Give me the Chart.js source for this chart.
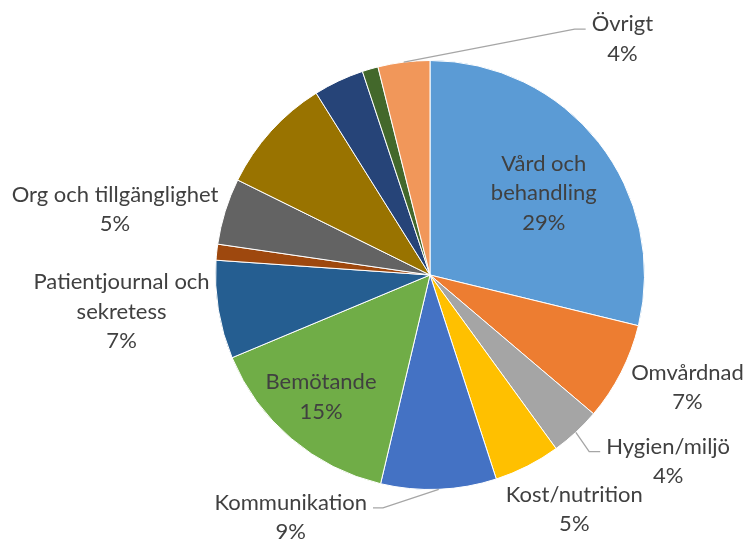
<!DOCTYPE html>
<html>
<head>
<meta charset="utf-8">
<script src="https://cdn.jsdelivr.net/npm/chart.js@4/dist/chart.umd.min.js"></script>
<style>
  html, body { margin: 0; padding: 0; background: #ffffff; }
  canvas { display: block; }
</style>
</head>
<body>
<canvas id="c" width="745" height="540"></canvas>
<script>
// Categories (clockwise from 12 o'clock); unlabeled slices have no visible label
const categories = [
  ['Vård och', 'behandling'],
  ['Omvårdnad'],
  ['Hygien/miljö'],
  ['Kost/nutrition'],
  ['Kommunikation'],
  ['Bemötande'],
  ['Patientjournal och', 'sekretess'],
  [''],
  ['Org och tillgänglighet'],
  [''],
  [''],
  [''],
  ['Övrigt']
];
// Share of total (percent)
const values = [28.8, 7.4, 3.8, 5.0, 8.7, 15.0, 7.4, 1.2, 5.0, 8.8, 3.8, 1.2, 3.9];
const showLabel = [true, true, true, true, true, true, true, false, true, false, false, false, true];
const colors = ['#5B9BD5', '#ED7D31', '#A5A5A5', '#FFC000', '#4472C4', '#70AD47',
                '#255E91', '#9E480E', '#636363', '#997300', '#264478', '#43682B', '#F1975A'];

// Label placement relative to each slice: angle offset (deg) from slice middle, radius factor
const placement = [
  { dA: 2.4,  k: 0.654 },
  { dA: -3.4, k: 1.31 },
  { dA: -9.1, k: 1.41, leader: true },
  { dA: -4.6, k: 1.284 },
  { dA: 32.2, k: 1.304, leader: true },
  { dA: 1.5,  k: 0.762 },
  { dA: 2.6,  k: 1.448 },
  null,
  { dA: -5.5, k: 1.50 },
  null, null, null,
  { dA: 46.2, k: 1.42, leader: true }
];

const sliceLabels = {
  id: 'sliceLabels',
  afterDatasetsDraw(chart) {
    const ctx = chart.ctx;
    const meta = chart.getDatasetMeta(0);
    const ds = chart.data.datasets[0].data;
    const total = ds.reduce((a, b) => a + b, 0);
    const lineH = 29.5;
    ctx.save();
    ctx.font = '22px Lato';
    ctx.fillStyle = '#404040';
    ctx.textAlign = 'center';
    ctx.textBaseline = 'middle';
    meta.data.forEach((arc, i) => {
      if (!showLabel[i] || !placement[i]) return;
      const p = placement[i];
      const { x, y, startAngle, endAngle, outerRadius } =
        arc.getProps(['x', 'y', 'startAngle', 'endAngle', 'outerRadius'], true);
      const mid = (startAngle + endAngle) / 2;
      const a = mid + p.dA * Math.PI / 180;
      const cx = x + Math.cos(a) * p.k * outerRadius;
      const cy = y + Math.sin(a) * p.k * outerRadius;
      const lines = chart.data.labels[i].concat([Math.round(ds[i] / total * 100) + '%']);
      const n = lines.length;
      const firstY = cy - (n - 1) / 2 * lineH;
      lines.forEach((t, j) => ctx.fillText(t, cx, firstY + j * lineH));
      if (p.leader) {
        const ex = x + Math.cos(mid) * outerRadius;
        const ey = y + Math.sin(mid) * outerRadius;
        const w = ctx.measureText(lines[0]).width;
        const ly = firstY + 5;
        let endX, elbowX;
        if (cx < ex) { endX = cx + w / 2 + 6; elbowX = endX + 10; }
        else { endX = cx - w / 2 - 6; elbowX = endX - 11; }
        ctx.save();
        ctx.strokeStyle = '#A6A6A6';
        ctx.lineWidth = 1.3;
        ctx.beginPath();
        ctx.moveTo(endX, ly);
        ctx.lineTo(elbowX, ly);
        ctx.lineTo(ex, ey);
        ctx.stroke();
        ctx.restore();
      }
    });
    ctx.restore();
  }
};

new Chart(document.getElementById('c'), {
  type: 'pie',
  data: {
    labels: categories,
    datasets: [{
      data: values,
      backgroundColor: colors,
      borderColor: '#ffffff',
      borderWidth: 1
    }]
  },
  options: {
    responsive: false,
    devicePixelRatio: 1,
    animation: false,
    layout: { padding: { top: 60, bottom: 50, left: 215, right: 100 } },
    plugins: { legend: { display: false }, tooltip: { enabled: false } }
  },
  plugins: [sliceLabels]
});
</script>
</body>
</html>
